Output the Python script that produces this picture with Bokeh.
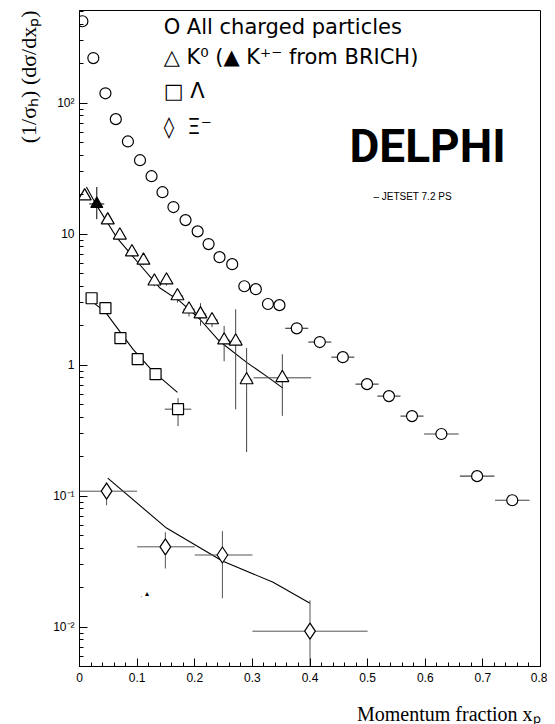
import math
from bokeh.plotting import figure
from bokeh.models import ColumnDataSource, FixedTicker, Label, Range1d, Title
from bokeh.embed import file_html
from bokeh.resources import INLINE

# ---------------- data ----------------
charged_x = [0.005, 0.024, 0.045, 0.063, 0.084, 0.105, 0.125, 0.144, 0.163, 0.184,
             0.205, 0.224, 0.243, 0.265, 0.286, 0.306, 0.327, 0.347,
             0.377, 0.417, 0.457, 0.499, 0.537, 0.577, 0.628, 0.690, 0.751]
charged_y = [422, 221, 119, 75.5, 51, 36.7, 27.7, 20.9, 16.1, 12.8,
             10.5, 8.4, 6.67, 5.9, 4.0, 3.8, 2.93, 2.87,
             1.91, 1.50, 1.15, 0.716, 0.58, 0.408, 0.298, 0.142, 0.093]
charged_xerr = [0, 0, 0, 0, 0, 0, 0, 0, 0, 0,
                0, 0, 0, 0, 0, 0, 0, 0,
                0.02, 0.02, 0.02, 0.02, 0.02, 0.02, 0.03, 0.03, 0.03]

k0_x = [0.009, 0.049, 0.070, 0.091, 0.111, 0.130, 0.151, 0.170, 0.190, 0.210, 0.230, 0.251, 0.271, 0.290, 0.352]
k0_y = [19.5, 12.8, 9.8, 7.3, 6.3, 4.37, 4.45, 3.37, 2.67, 2.45, 2.21, 1.55, 1.52, 0.77, 0.80]
k0_ylo = [18.5, 12.0, 9.2, 6.8, 5.8, 4.0, 4.05, 3.0, 2.35, 2.0, 1.95, 1.07, 0.46, 0.217, 0.41]
k0_yhi = [20.5, 13.6, 10.4, 7.8, 6.8, 4.75, 4.85, 3.8, 3.0, 2.97, 2.5, 1.99, 2.67, 1.35, 1.21]
k0_xerr = [0.008, 0.008, 0.008, 0.008, 0.008, 0.008, 0.008, 0.01, 0.01, 0.01, 0.01, 0.01, 0.01, 0.01, 0.05]

kpm_x = [0.030]
kpm_y = [17.0]
kpm_ylo = [13.0]
kpm_yhi = [22.9]
kpm_xerr = [0.013]

lam_x = [0.021, 0.045, 0.071, 0.101, 0.132, 0.171]
lam_y = [3.24, 2.72, 1.61, 1.11, 0.853, 0.461]
lam_ylo = [3.0, 2.5, 1.48, 1.01, 0.78, 0.342]
lam_yhi = [3.5, 2.95, 1.75, 1.22, 0.93, 0.56]
lam_xerr = [0.009, 0.009, 0.009, 0.009, 0.009, 0.023]

xi_x = [0.047, 0.149, 0.248, 0.400]
xi_y = [0.109, 0.041, 0.0355, 0.0093]
xi_xlo = [0.0, 0.1, 0.2, 0.3]
xi_xhi = [0.1, 0.2, 0.3, 0.5]
xi_ylo = [0.085, 0.028, 0.0166, 0.003]
xi_yhi = [0.128, 0.053, 0.054, 0.016]

# JETSET 7.2 PS curves
k0_curve_x = [0.012, 0.030, 0.064, 0.101, 0.139, 0.174, 0.209, 0.243, 0.290, 0.325, 0.353]
k0_curve_y = [22.9, 16.5, 9.5, 6.1, 3.9, 3.08, 2.24, 1.52, 1.05, 0.82, 0.667]
lam_curve_x = [0.021, 0.045, 0.093, 0.127, 0.170]
lam_curve_y = [3.08, 2.54, 1.32, 0.90, 0.62]
xi_curve_x = [0.049, 0.151, 0.248, 0.336, 0.400]
xi_curve_y = [0.137, 0.057, 0.0319, 0.022, 0.0152]

xtick_values = [0, 0.1, 0.2, 0.3, 0.4, 0.5, 0.6, 0.7, 0.8]
xtick_labels = ["0", "0.1", "0.2", "0.3", "0.4", "0.5", "0.6", "0.7", "0.8"]
ytick_values = [0.01, 0.1, 1, 10, 100]
ytick_labels = ["10\u207b\u00b2", "10\u207b\u00b9", "1", "10", "10\u00b2"]

NB = "\u00a0"
legend_lines = ["O All charged particles",
                "\u25b3 K\u2070 (\u25b2 K\u207a\u207b from BRICH)",
                "\u25a1" + NB + "\u039b",
                "\u25ca" + NB * 2 + "\u039e\u207b"]
x_title = "Momentum fraction x\u209a"
y_title = "(1/\u03c3\u2095) (d\u03c3/dx\u209a)"

# ---------------- figure ----------------
p = figure(width=547, height=724, output_backend="svg", toolbar_location=None,
           x_range=Range1d(0, 0.8), y_range=Range1d(0.005, 510),
           y_axis_type="log", title=None,
           min_border_left=79, min_border_right=7, min_border_top=10, min_border_bottom=58)
p.grid.visible = False
p.outline_line_color = "black"
p.outline_line_width = 1
p.background_fill_color = "white"
p.border_fill_color = "white"

FONT = "Liberation Sans"
SERIF = "Liberation Serif"

xa = p.xaxis[0]
xa.ticker = FixedTicker(ticks=xtick_values,
                        minor_ticks=[round(i * 0.02, 2) for i in range(41)])
xa.major_label_overrides = dict(zip(xtick_values, xtick_labels))
ya = p.yaxis[0]
minor_y = [m * 10.0 ** e for e in range(-3, 3) for m in range(2, 10)]
ya.ticker = FixedTicker(ticks=ytick_values, minor_ticks=minor_y)
ya.major_label_overrides = dict(zip(ytick_values, ytick_labels))
for ax in (xa, ya):
    ax.axis_line_color = "black"
    ax.major_tick_line_color = "black"
    ax.minor_tick_line_color = "black"
    ax.major_tick_in = 8
    ax.major_tick_out = 0
    ax.minor_tick_in = 4
    ax.minor_tick_out = 0
    ax.major_label_text_font = FONT
    ax.major_label_text_font_size = "12px"
    ax.major_label_text_color = "black"
xa.major_label_standoff = 6
ya.major_label_standoff = 5
# invisible spacer label under the x axis to push the x title down
xa.axis_label = NB
xa.axis_label_text_font_size = "1px"
xa.axis_label_standoff = 12

# axis titles as side titles
p.add_layout(Title(text=x_title, align="right", text_font=SERIF, text_font_size="20px",
                   text_font_style="normal", text_color="black", standoff=0), "below")
p.add_layout(Title(text=y_title, align="right", text_font=SERIF, text_font_size="22px",
                   text_font_style="normal", text_color="black", standoff=20), "left")

ERR = "#444444"

# ---- all charged ----
src_c = ColumnDataSource(dict(
    x=charged_x, y=charged_y,
    x0=[a - e for a, e in zip(charged_x, charged_xerr)],
    x1=[a + e for a, e in zip(charged_x, charged_xerr)]))
p.segment("x0", "y", "x1", "y", source=src_c, line_color=ERR, line_width=1.2)
p.scatter("x", "y", source=src_c, marker="circle", size=11,
          fill_color="white", line_color="black", line_width=1.2)

# ---- K0 ----
src_k = ColumnDataSource(dict(
    x=k0_x, y=k0_y, ylo=k0_ylo, yhi=k0_yhi,
    x0=[a - e for a, e in zip(k0_x, k0_xerr)],
    x1=[a + e for a, e in zip(k0_x, k0_xerr)]))
p.line(k0_curve_x, k0_curve_y, line_color="black", line_width=1.1)
p.segment("x", "ylo", "x", "yhi", source=src_k, line_color=ERR, line_width=1)
p.segment("x0", "y", "x1", "y", source=src_k, line_color=ERR, line_width=1)
p.scatter("x", "y", source=src_k, marker="triangle", size=13,
          fill_color="white", line_color="black", line_width=1.2)

src_kpm = ColumnDataSource(dict(
    x=kpm_x, y=kpm_y, ylo=kpm_ylo, yhi=kpm_yhi,
    x0=[a - e for a, e in zip(kpm_x, kpm_xerr)],
    x1=[a + e for a, e in zip(kpm_x, kpm_xerr)]))
p.segment("x", "ylo", "x", "yhi", source=src_kpm, line_color="black", line_width=1)
p.segment("x0", "y", "x1", "y", source=src_kpm, line_color="black", line_width=1)
p.scatter("x", "y", source=src_kpm, marker="triangle", size=12,
          fill_color="black", line_color="black", line_width=1.2)

# ---- Lambda ----
src_l = ColumnDataSource(dict(
    x=lam_x, y=lam_y, ylo=lam_ylo, yhi=lam_yhi,
    x0=[a - e for a, e in zip(lam_x, lam_xerr)],
    x1=[a + e for a, e in zip(lam_x, lam_xerr)]))
p.line(lam_curve_x, lam_curve_y, line_color="black", line_width=1.1)
p.segment("x", "ylo", "x", "yhi", source=src_l, line_color=ERR, line_width=1)
p.segment("x0", "y", "x1", "y", source=src_l, line_color=ERR, line_width=1)
p.scatter("x", "y", source=src_l, marker="square", size=11,
          fill_color="white", line_color="black", line_width=1.2)

# ---- Xi ----
src_x = ColumnDataSource(dict(x=xi_x, y=xi_y, ylo=xi_ylo, yhi=xi_yhi,
                              x0=xi_xlo, x1=xi_xhi))
p.line(xi_curve_x, xi_curve_y, line_color="black", line_width=1.1)
p.segment("x", "ylo", "x", "yhi", source=src_x, line_color="#555555", line_width=1)
p.segment("x0", "y", "x1", "y", source=src_x, line_color="#555555", line_width=1)
p.scatter("x", "y", source=src_x, marker="diamond", size=16,
          fill_color="white", line_color="black", line_width=1.2)

# ---- legend / annotations ----
LEGFONT = "DejaVu Sans"
leg_y = [380, 224, 123.5, 66]
for txt, yy in zip(legend_lines, leg_y):
    p.add_layout(Label(x=0.146, y=yy, text=txt, text_font=LEGFONT, text_font_size="21px",
                       text_baseline="middle", text_align="left", text_color="black"))

p.add_layout(Label(x=0.604, y=47, text="DELPHI", text_font="Roboto",
                   text_font_style="bold", text_font_size="46px",
                   text_align="center", text_baseline="middle", text_color="black"))
p.add_layout(Label(x=0.51, y=19.5, text="\u2013 JETSET 7.2 PS", text_font=FONT,
                   text_font_size="10px", text_align="left", text_baseline="middle",
                   text_color="black"))
p.add_layout(Label(x=0.105, y=0.0179, text="\u02cc \u25b4", text_font=FONT,
                   text_font_size="8px", text_align="left", text_baseline="middle",
                   text_color="black"))

open("out.html", "w").write(file_html(p, INLINE))
